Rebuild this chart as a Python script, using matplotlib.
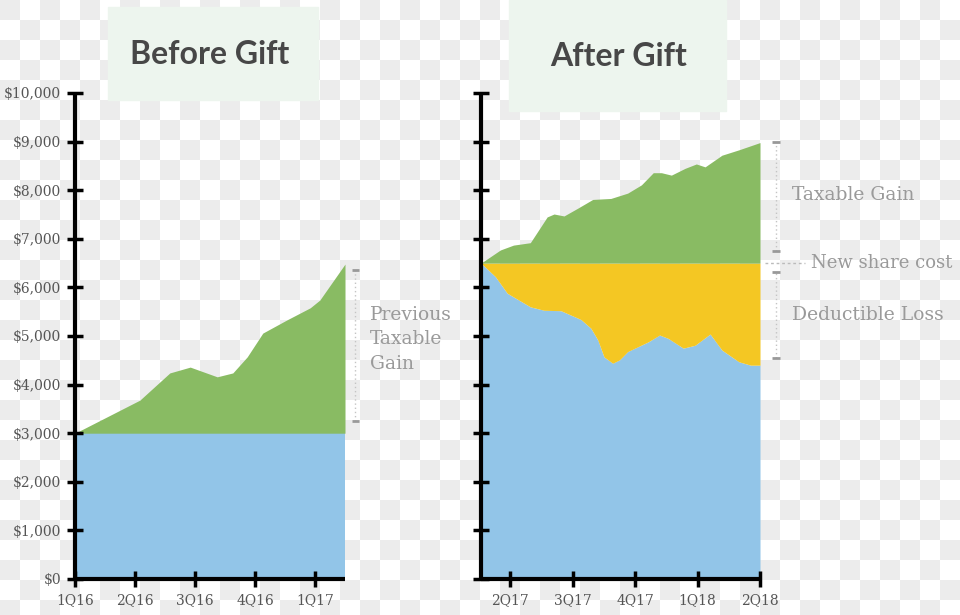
import numpy as np
import matplotlib.pyplot as plt
from matplotlib.colors import ListedColormap
from matplotlib.patches import Rectangle

# values (x in quarters, y in dollars)
before_quarters = ['1Q16', '2Q16', '3Q16', '4Q16', '1Q17']
before_x = [0.0, 1.08, 1.58, 1.92, 2.37, 2.63, 2.87, 3.13, 3.53, 3.92, 4.08, 4.5]
before_value = [3000, 3680, 4240, 4360, 4160, 4240, 4570, 5060, 5330, 5580, 5740, 6480]
before_cost = 3000

after_quarters = ['2Q17', '3Q17', '4Q17', '1Q18', '2Q18']
after_value_x = [-0.47, -0.16, 0.05, 0.32, 0.59, 0.70, 0.86, 1.08, 1.32, 1.61, 1.88,
                 2.10, 2.29, 2.42, 2.58, 2.80, 2.98, 3.12, 3.39, 3.66, 4.0]
after_value = [6500, 6770, 6870, 6920, 7450, 7510, 7470, 7630, 7810, 7830, 7940,
               8110, 8360, 8360, 8310, 8450, 8540, 8480, 8720, 8830, 8980]
after_low_x = [-0.47, -0.24, -0.05, 0.32, 0.54, 0.81, 0.97, 1.13, 1.29, 1.40, 1.50,
               1.64, 1.75, 1.88, 2.21, 2.39, 2.53, 2.77, 2.96, 3.20, 3.39, 3.66,
               3.85, 4.0]
after_low = [6500, 6220, 5880, 5600, 5530, 5520, 5430, 5340, 5160, 4920, 4570,
             4440, 4510, 4680, 4880, 5020, 4950, 4750, 4810, 5040, 4710, 4470,
             4400, 4400]
new_cost = 6500

y_ticks = np.arange(0, 10001, 1000)

BLUE = '#92c5e8'
GREEN = '#89bb63'
YELLOW = '#f4c723'
MINT = '#edf5ee'
NOTE = '#9a9a9a'
SERIF = 'DejaVu Serif'

W, H = 960, 615
fig = plt.figure(figsize=(W / 100, H / 100), dpi=100)

# transparent-background checkerboard, as in the reference image
bg = fig.add_axes([0, 0, 1, 1], zorder=-10)
nx, ny = W // 20 + 1, H // 20 + 1
ii, jj = np.meshgrid(np.arange(nx), np.arange(ny))
checker = (ii + jj) % 2
bg.imshow(checker, cmap=ListedColormap(['#ececec', '#ffffff']),
          extent=[0, nx * 20, ny * 20, 0], interpolation='nearest',
          aspect='auto')
bg.set_xlim(0, W)
bg.set_ylim(H, 0)
bg.axis('off')

# title boxes (pixel coordinates on the bg axes)
bg.add_patch(Rectangle((108, 7), 210, 93, color=MINT, zorder=2))
bg.add_patch(Rectangle((509, 0), 217, 111, color=MINT, zorder=2))
bg.text(210, 55, 'Before Gift', ha='center', va='center', fontsize=23,
        fontweight='bold', family='Lato', color='#474747', zorder=3)
bg.text(619, 56, 'After Gift', ha='center', va='center', fontsize=23,
        fontweight='bold', family='Lato', color='#474747', zorder=3)


def px_axes(x0, x1):
    # axes spanning pixel columns x0..x1, rows 93..579
    return fig.add_axes([x0 / W, 1 - 579 / H, (x1 - x0) / W, (579 - 93) / H])


def style(ax):
    ax.patch.set_alpha(0)
    for side in ('top', 'right'):
        ax.spines[side].set_visible(False)
    for side in ('left', 'bottom'):
        ax.spines[side].set_linewidth(3)
        ax.spines[side].set_capstyle('butt')
    ax.set_ylim(0, 10000)
    ax.set_yticks(y_ticks)
    ax.tick_params(direction='inout', length=12, width=2.5, color='black',
                   labelcolor='#555555', labelsize=10, pad=4)
    for lab in ax.get_xticklabels() + ax.get_yticklabels():
        lab.set_family(SERIF)


def bracket(ax, x, y0, y1):
    ax.plot([x, x], [y0, y1], color='#c4c4c4', lw=1, ls=(0, (1, 2)),
            clip_on=False)
    for y in (y0, y1):
        ax.plot([x - 0.06, x + 0.06], [y, y], color='#999999', lw=2,
                clip_on=False, solid_capstyle='butt')


# before gift
ax1 = px_axes(75, 345)
ax1.fill_between(before_x, 0, before_cost, color=BLUE, lw=0)
ax1.fill_between(before_x, before_cost, before_value, color=GREEN, lw=0)
ax1.set_xlim(0, 4.5)
ax1.set_xticks(range(len(before_quarters)))
ax1.set_xticklabels(before_quarters)
ax1.set_yticklabels(['${:,}'.format(v) for v in y_ticks])
style(ax1)
bracket(ax1, 4.67, 3250, 6350)
ax1.text(4.92, 4930, 'Previous\nTaxable\nGain', ha='left', va='center',
         family=SERIF, fontsize=13.5, color=NOTE, linespacing=1.47,
         clip_on=False)

# after gift
ax2 = px_axes(481, 760)
ax2.fill_between(after_low_x, 0, after_low, color=BLUE, lw=0)
ax2.fill_between(after_low_x, after_low, new_cost, color=YELLOW, lw=0)
ax2.fill_between(after_value_x, new_cost, after_value, color=GREEN, lw=0)
ax2.set_xlim(-0.47, 4.0)
ax2.set_xticks(range(len(after_quarters)))
ax2.set_xticklabels(after_quarters)
ax2.set_yticklabels([])
style(ax2)
bracket(ax2, 4.26, 6750, 9000)
bracket(ax2, 4.26, 4550, 6320)
ax2.plot([4.08, 4.72], [new_cost, new_cost], color='#bbbbbb', lw=1,
         ls=(0, (2, 2)), clip_on=False)
ax2.text(4.52, 7900, 'Taxable Gain', ha='left', va='center', family=SERIF,
         fontsize=13.5, color=NOTE, clip_on=False)
ax2.text(4.82, new_cost, 'New share cost', ha='left', va='center',
         family=SERIF, fontsize=13, color=NOTE, clip_on=False)
ax2.text(4.52, 5430, 'Deductible Loss', ha='left', va='center', family=SERIF,
         fontsize=13.5, color=NOTE, clip_on=False)

fig.savefig('out.png', dpi=100)
